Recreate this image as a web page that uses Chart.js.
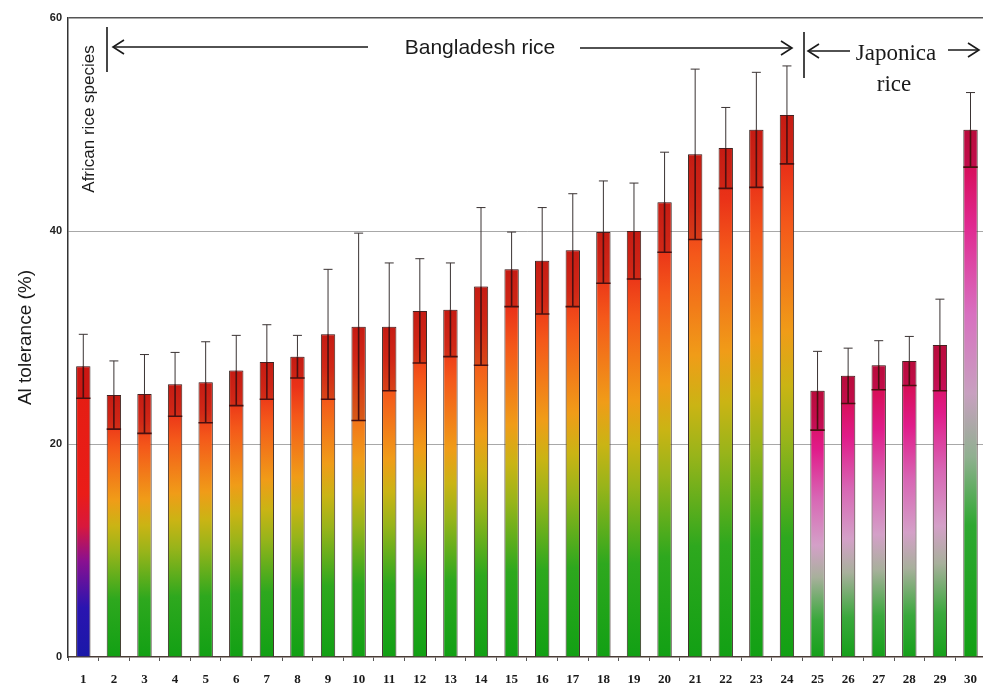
<!DOCTYPE html>
<html>
<head>
<meta charset="utf-8">
<script src="https://cdn.jsdelivr.net/npm/chart.js@4"></script>
<style>
  body { margin: 0; background: #fff; overflow: hidden; }
  #wrap { width: 988px; height: 690px; }
</style>
</head>
<body>
<div id="wrap"><canvas id="g1"></canvas></div>
<script>
// rice lines, 1 = African, 2-24 = Bangladesh, 25-30 = Japonica
var lines = ['1','2','3','4','5','6','7','8','9','10','11','12','13','14','15',
  '16','17','18','19','20','21','22','23','24','25','26','27','28','29','30'];

// mean Al tolerance (%)
var tolerance = [27.3, 24.6, 24.7, 25.6, 25.8, 26.9, 27.7, 28.2, 30.3, 31.0,
  31.0, 32.5, 32.6, 34.8, 36.4, 37.2, 38.2, 39.9, 40.0, 42.7,
  47.2, 47.8, 49.5, 50.9, 25.0, 26.4, 27.4, 27.8, 29.3, 49.5];

// standard deviation
var sd = [3.0, 3.2, 3.7, 3.0, 3.8, 3.3, 3.5, 2.0, 6.1, 8.8,
  6.0, 4.9, 4.4, 7.4, 3.5, 5.0, 5.3, 4.8, 4.5, 4.7,
  8.0, 3.8, 5.4, 4.6, 3.7, 2.6, 2.3, 2.3, 4.3, 3.5];

var yTicks = [0, 20, 40, 60];

// gradient stops per group (bottom -> top)
var stopsAfrican = [[0, '#1a18a8'], [0.17, '#2a14b0'], [0.33, '#8a1090'], [0.45, '#d8183c'], [0.56, '#ea1c18'], [1, '#e41e12']];
var stopsBangla = [[0, '#12a014'], [0.22, '#2ea81e'], [0.4, '#98b41a'], [0.5, '#cab414'], [0.6, '#f09c18'], [0.8, '#f4581a'], [0.9, '#ea3218'], [1, '#dc2414']];
var stopsJaponica = [[0, '#16a01a'], [0.14, '#3aa83c'], [0.3, '#a8b09c'], [0.42, '#d4a0c8'], [0.6, '#d866b4'], [0.78, '#e01c8a'], [0.9, '#d8105c'], [1, '#cc1048']];
var stopsJaponica2 = [[0, '#12a014'], [0.25, '#2ea830'], [0.38, '#90b090'], [0.5, '#c8a0c0'], [0.65, '#d870c0'], [0.82, '#e02890'], [0.92, '#d81060'], [1, '#cc1048']];

function stopsFor(i) {
    if (i == 0) return stopsAfrican;
    if (i < 24) return stopsBangla;
    if (i < 29) return stopsJaponica;
    return stopsJaponica2;
}

function barFill(c) {
    var chart = c.chart;
    if (!chart.chartArea || c.raw == null) return '#dc2414';
    var y = chart.scales.y;
    var g = chart.ctx.createLinearGradient(0, y.getPixelForValue(0), 0, y.getPixelForValue(c.raw));
    stopsFor(c.dataIndex).forEach(function(s) { g.addColorStop(s[0], s[1]); });
    return g;
}

// error bars: thin whisker with cap above, dark band inside the bar below
var errorBars = {
    id: 'errorBars',
    afterDatasetsDraw: function(chart) {
        var ctx = chart.ctx;
        var y = chart.scales.y;
        var meta = chart.getDatasetMeta(0);
        ctx.save();
        meta.data.forEach(function(bar, i) {
            var top = y.getPixelForValue(tolerance[i]);
            var hi = y.getPixelForValue(tolerance[i] + sd[i]);
            var lo = y.getPixelForValue(tolerance[i] - sd[i]);
            var half = bar.width / 2;
            ctx.fillStyle = 'rgba(120,0,20,0.22)';
            ctx.fillRect(bar.x - half + 1, top, bar.width - 2, lo - top);
            ctx.strokeStyle = '#3a3333';
            ctx.lineWidth = 1;
            ctx.beginPath();
            ctx.moveTo(bar.x, top);
            ctx.lineTo(bar.x, hi);
            ctx.moveTo(bar.x - 4.5, hi);
            ctx.lineTo(bar.x + 4.5, hi);
            ctx.stroke();
            ctx.strokeStyle = '#4a1010';
            ctx.lineWidth = 1.6;
            ctx.beginPath();
            ctx.moveTo(bar.x, top);
            ctx.lineTo(bar.x, lo);
            ctx.moveTo(bar.x - half, lo);
            ctx.lineTo(bar.x + half, lo);
            ctx.stroke();
        });
        ctx.restore();
    }
};

function arrowHead(ctx, x, y, dir) {
    ctx.beginPath();
    ctx.moveTo(x - dir * 11, y - 7);
    ctx.lineTo(x, y);
    ctx.lineTo(x - dir * 11, y + 7);
    ctx.stroke();
}

// group labels and arrows along the top
var groupLabels = {
    id: 'groupLabels',
    afterDraw: function(chart) {
        var ctx = chart.ctx;
        ctx.save();
        ctx.strokeStyle = '#1a1a1a';
        ctx.fillStyle = '#1a1a1a';
        ctx.lineWidth = 1.6;

        // African rice species
        ctx.save();
        ctx.translate(89, 119);
        ctx.rotate(-Math.PI / 2);
        ctx.font = '17px "Liberation Sans", Arial, sans-serif';
        ctx.textAlign = 'center';
        ctx.textBaseline = 'middle';
        ctx.fillText('African rice species', 0, 0);
        ctx.restore();

        // Bangladesh rice
        ctx.beginPath();
        ctx.moveTo(107, 27); ctx.lineTo(107, 72);
        ctx.moveTo(113, 47); ctx.lineTo(368, 47);
        ctx.moveTo(580, 48); ctx.lineTo(792, 48);
        ctx.stroke();
        arrowHead(ctx, 113, 47, -1);
        arrowHead(ctx, 792, 48, 1);
        ctx.font = '21px "Liberation Sans", Arial, sans-serif';
        ctx.textAlign = 'center';
        ctx.textBaseline = 'middle';
        ctx.fillText('Bangladesh rice', 480, 48);

        // Japonica rice
        ctx.beginPath();
        ctx.moveTo(804, 32); ctx.lineTo(804, 78);
        ctx.moveTo(808, 51); ctx.lineTo(850, 51);
        ctx.moveTo(948, 50); ctx.lineTo(979, 50);
        ctx.stroke();
        arrowHead(ctx, 808, 51, -1);
        arrowHead(ctx, 979, 50, 1);
        ctx.font = '23px "Liberation Serif", "Times New Roman", serif';
        ctx.fillText('Japonica', 896, 54);
        ctx.fillText('rice', 894, 85);
        ctx.restore();
    }
};

var ctx_1 = document.getElementById('g1');

var myChart = new Chart(ctx_1, {
    type: 'bar',
    data: {
        labels: lines,
        datasets: [{
            label: 'Al tolerance (%)',
            data: tolerance,
            backgroundColor: barFill,
            borderColor: '#3a2a26',
            borderWidth: 1,
            barPercentage: 0.47,
            categoryPercentage: 1
        }]
    },
    options: {
        responsive: true,
        maintainAspectRatio: false,
        animation: false,
        layout: {
            padding: {top: 18, left: 0, right: 0, bottom: 0}
        },
        plugins: {
            legend: { display: false },
            tooltip: { enabled: false }
        },
        scales: {
            x: {
                grid: {
                    drawOnChartArea: false,
                    drawTicks: true,
                    tickLength: 4,
                    color: '#555'
                },
                border: { color: '#4a3c36', width: 1.5 },
                ticks: {
                    padding: 11,
                    color: '#1a1a1a',
                    font: { family: '"Liberation Serif", "Times New Roman", serif', size: 13, weight: 'bold' }
                },
                afterFit: function(scale) { scale.height = 33; }
            },
            y: {
                min: 0,
                max: 60,
                afterBuildTicks: function(scale) {
                    scale.ticks = yTicks.map(function(v) { return {value: v}; });
                },
                grid: {
                    drawTicks: false,
                    color: function(c) {
                        if (c.tick.value == 60) return '#555';
                        if (c.tick.value == 0) return 'rgba(0,0,0,0)';
                        return '#a8a8a8';
                    },
                    lineWidth: function(c) { return c.tick.value == 60 ? 1.5 : 1; }
                },
                border: { color: '#333', width: 1.5 },
                ticks: {
                    padding: 6,
                    color: '#222',
                    font: { family: '"Liberation Sans", Arial, sans-serif', size: 11, weight: 'bold' }
                },
                title: {
                    display: true,
                    text: 'Al tolerance (%)',
                    color: '#1a1a1a',
                    font: { family: '"Liberation Sans", Arial, sans-serif', size: 19 },
                    padding: {top: 14, bottom: 0}
                },
                afterFit: function(scale) { scale.width = 68; }
            }
        }
    },
    plugins: [errorBars, groupLabels]
});
</script>
</body>
</html>
